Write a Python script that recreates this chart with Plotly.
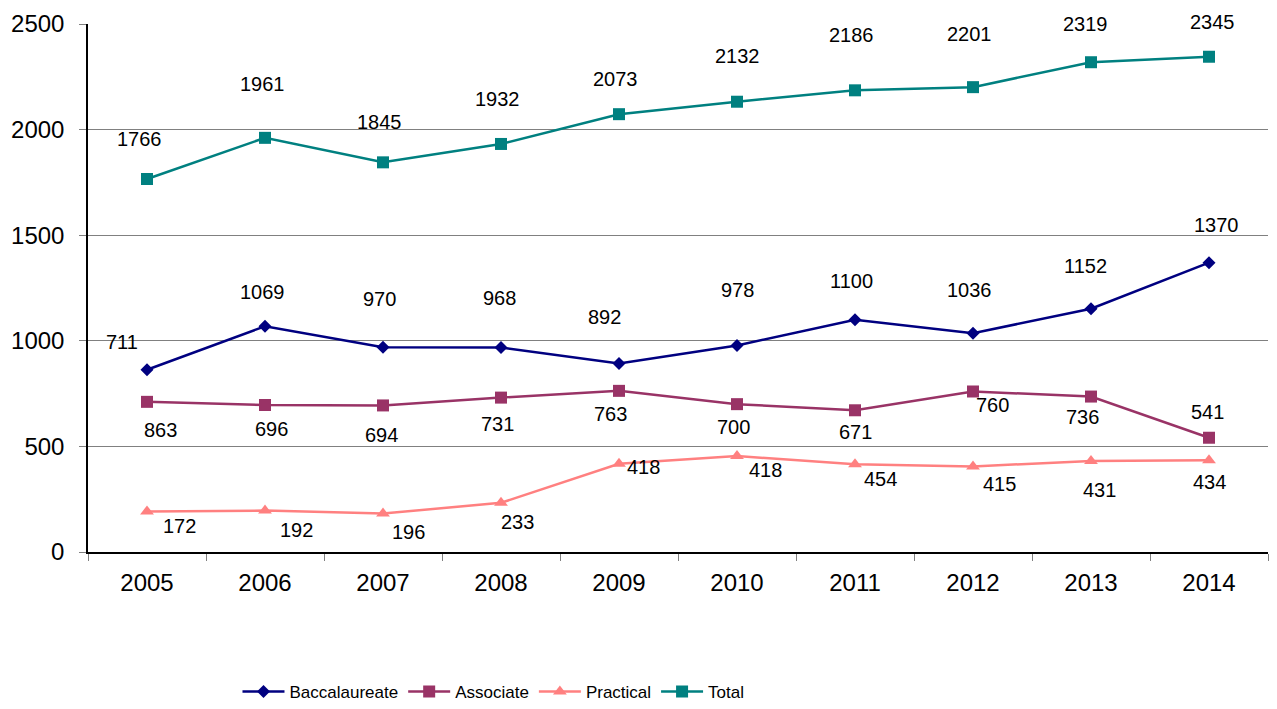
import plotly.graph_objects as go

years = ["2005", "2006", "2007", "2008", "2009", "2010", "2011", "2012", "2013", "2014"]

baccalaureate = [863, 1069, 970, 968, 892, 978, 1100, 1036, 1152, 1370]
associate = [711, 696, 694, 731, 763, 700, 671, 760, 736, 541]
practical = [192, 196, 182, 233, 418, 454, 415, 405, 431, 434]
total = [1766, 1961, 1845, 1932, 2073, 2132, 2186, 2201, 2319, 2345]

# data labels as printed on the chart
bacc_labels = ["711", "1069", "970", "968", "892", "978", "1100", "1036", "1152", "1370"]
assoc_labels = ["863", "696", "694", "731", "763", "700", "671", "760", "736", "541"]
prac_labels = ["172", "192", "196", "233", "418", "418", "454", "415", "431", "434"]
total_labels = ["1766", "1961", "1845", "1932", "2073", "2132", "2186", "2201", "2319", "2345"]

# label offsets in pixels (dx, dy with dy positive = down)
bacc_off = [(-25, -28), (-3, -34), (-4, -48), (-2, -50), (-15, -47), (0, -55), (-4, -39), (-4, -43), (-6, -43), (7, -38)]
assoc_off = [(13, 28), (6, 24), (-2, 30), (-4, 26), (-9, 23), (-4, 23), (0, 22), (19, 14), (-9, 20), (-2, -26)]
prac_off = [(32, 15), (31, 19), (25, 18), (16, 19), (24, 3), (28, 14), (25, 15), (26, 18), (8, 29), (0, 22)]
total_off = [(-8, -40), (-3, -54), (-4, -40), (-4, -45), (-4, -35), (0, -46), (-4, -55), (-4, -53), (-6, -38), (3, -35)]

series = [
    ("Baccalaureate", baccalaureate, bacc_labels, bacc_off, "#000080", "diamond", 10),
    ("Associate", associate, assoc_labels, assoc_off, "#993366", "square", 12),
    ("Practical", practical, prac_labels, prac_off, "#FF8080", "triangle-up", 12),
    ("Total", total, total_labels, total_off, "#008080", "square", 12),
]

FONT = "Liberation Sans"

fig = go.Figure()
for name, vals, labels, offs, color, sym, msize in series:
    fig.add_trace(go.Scatter(
        x=years, y=vals, name=name, mode="lines+markers",
        line=dict(color=color, width=2.5),
        marker=dict(symbol=sym, size=msize, color=color),
    ))

annotations = []
for name, vals, labels, offs, color, sym, msize in series:
    for i, (yv, lab, (dx, dy)) in enumerate(zip(vals, labels, offs)):
        annotations.append(dict(
            x=i, y=yv, xref="x", yref="y", text=lab, showarrow=False,
            xshift=dx, yshift=-dy, font=dict(size=20, color="black", family=FONT),
        ))

fig.update_layout(
    width=1261, height=693,
    paper_bgcolor="white", plot_bgcolor="white",
    margin=dict(l=80, r=1, t=16, b=149),
    font=dict(family=FONT, color="black"),
    showlegend=True,
    legend=dict(
        orientation="h", xref="container", yref="container",
        x=0.385, xanchor="center", y=0.013, yanchor="middle",
        font=dict(size=17, family=FONT, color="black"),
        itemwidth=42,
    ),
    annotations=annotations,
)

fig.update_xaxes(
    type="category", range=[-0.5, 9.5],
    showline=True, linecolor="black", linewidth=1.5,
    ticks="outside", tickson="boundaries", ticklen=7, tickcolor="#808080",
    tickfont=dict(size=24, family=FONT, color="black"),
    ticklabelstandoff=8,
    showgrid=False, zeroline=False, automargin=False,
)
fig.update_yaxes(
    range=[0, 2500], dtick=500, tick0=0,
    showline=True, linecolor="black", linewidth=1.5,
    ticks="outside", ticklen=7, tickcolor="#808080",
    tickfont=dict(size=24, family=FONT, color="black"),
    ticklabelstandoff=10,
    showgrid=True, gridcolor="#808080", gridwidth=1,
    zeroline=False, automargin=False,
)

fig.write_html("out.html")
